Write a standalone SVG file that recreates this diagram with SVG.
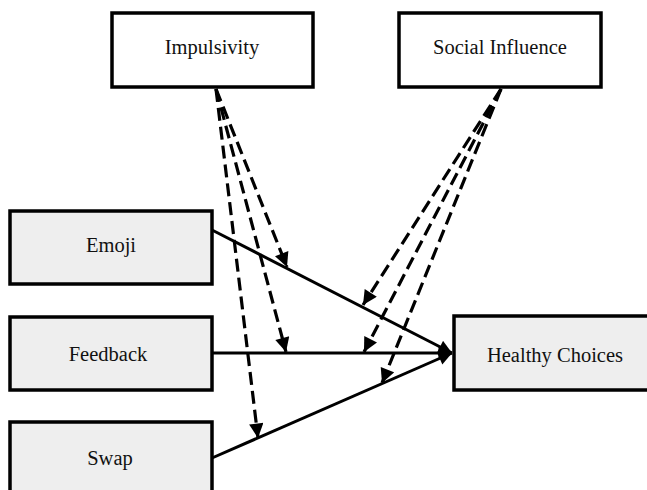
<svg xmlns="http://www.w3.org/2000/svg" width="647" height="490" viewBox="0 0 647 490">
<style>
.box{stroke:#000;stroke-width:3.5}
.w{fill:#fff}
.g{fill:#eeeeee}
text{font-family:"Liberation Serif","Times New Roman",serif;font-size:20.5px;fill:#111;text-anchor:middle}
.solid{stroke:#000;stroke-width:3;fill:none}
.dash{stroke:#000;stroke-width:3.2;fill:none;stroke-dasharray:13 6}
</style>
<defs>
<marker id="ah" viewBox="0 0 10 10" refX="10" refY="5" markerWidth="5" markerHeight="4.5" markerUnits="strokeWidth" orient="auto">
<path d="M0,0 L10,5 L0,10 z" fill="#000"/>
</marker>
</defs>
<rect width="647" height="490" fill="#fff"/>
<g id="connectors">
<line class="solid" x1="212" y1="230" x2="452" y2="353" marker-end="url(#ah)"/>
<line class="solid" x1="212" y1="353" x2="452" y2="353" marker-end="url(#ah)"/>
<line class="solid" x1="212" y1="458" x2="452" y2="353" marker-end="url(#ah)"/>
<line class="dash" x1="216" y1="89" x2="287" y2="267" marker-end="url(#ah)"/>
<line class="dash" x1="216" y1="89" x2="286" y2="352" marker-end="url(#ah)"/>
<line class="dash" x1="216" y1="89" x2="258" y2="438" marker-end="url(#ah)"/>
<line class="dash" x1="501" y1="89" x2="363" y2="305" marker-end="url(#ah)"/>
<line class="dash" x1="501" y1="89" x2="364" y2="352" marker-end="url(#ah)"/>
<line class="dash" x1="501" y1="89" x2="382" y2="383" marker-end="url(#ah)"/>
</g>
<g id="impulsivity">
<rect class="box w" x="112" y="13" width="201" height="74"/>
<text x="212" y="54">Impulsivity</text>
</g>
<g id="social-influence">
<rect class="box w" x="399" y="13" width="202" height="74"/>
<text x="500" y="54">Social Influence</text>
</g>
<g id="emoji">
<rect class="box g" x="10" y="211" width="202" height="73"/>
<text x="111" y="252">Emoji</text>
</g>
<g id="feedback">
<rect class="box g" x="10" y="317" width="202" height="73"/>
<text x="108" y="361">Feedback</text>
</g>
<g id="swap">
<rect class="box g" x="10" y="422" width="202" height="80"/>
<text x="110" y="465">Swap</text>
</g>
<g id="healthy-choices">
<rect class="box g" x="454" y="316" width="206" height="74"/>
<text x="555" y="362">Healthy Choices</text>
</g>
</svg>
